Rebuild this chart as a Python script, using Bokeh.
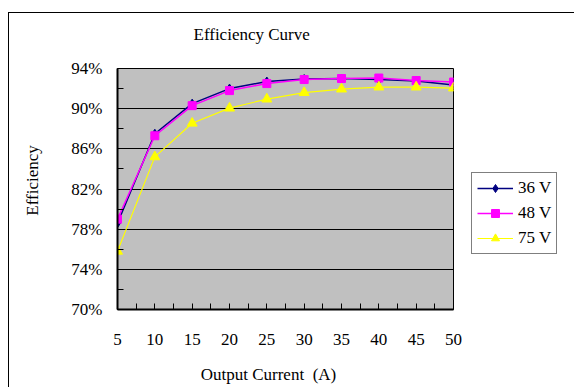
from bokeh.plotting import figure
from bokeh.models import FixedTicker, Legend, LegendItem, Range1d, Title
from bokeh.embed import file_html
from bokeh.resources import INLINE

# Output current (A) and measured efficiency (%) for three input voltages
current = [5, 10, 15, 20, 25, 30, 35, 40, 45, 50]
eff_36v = [78.6, 87.5, 90.5, 92.0, 92.7, 92.95, 93.0, 92.9, 92.75, 92.35]
eff_48v = [79.0, 87.3, 90.3, 91.8, 92.5, 92.9, 93.0, 93.05, 92.8, 92.65]
eff_75v = [75.8, 85.2, 88.55, 90.05, 90.95, 91.6, 91.95, 92.15, 92.15, 92.05]

y_ticks = [70, 74, 78, 82, 86, 90, 94]
y_minor = [72, 76, 80, 84, 88, 92]
x_minor = [7.5, 12.5, 17.5, 22.5, 27.5, 32.5, 37.5, 42.5, 47.5]

FONT = "Liberation Serif"
NB = "\u00a0"

p = figure(frame_width=336, frame_height=241, title=None,
           output_backend="svg", toolbar_location=None,
           x_range=Range1d(5, 50), y_range=Range1d(70, 94),
           min_border_left=108, min_border_right=121,
           min_border_top=55, min_border_bottom=78)

# left/top border line of the chart area, offset from the page edge
p.margin = (12, 0, 0, 8)
p.styles = {"border-left": "1px solid black", "border-top": "1px solid black"}

p.background_fill_color = "#C0C0C0"
p.border_fill_color = "white"
p.outline_line_color = "black"
p.outline_line_width = 1

# empty spacer between the frame and the chart title
p.add_layout(Title(text=NB, text_font_size="1px", standoff=22), "above")
p.add_layout(Title(text="Efficiency Curve", text_font=FONT, text_font_size="17px",
                   text_font_style="normal", text_color="black",
                   align="left", offset=76, vertical_align="bottom", standoff=0),
             "above")

# axes
for ax in (p.xaxis[0], p.yaxis[0]):
    ax.axis_line_color = "black"
    ax.axis_line_width = 2
    ax.major_tick_in = 6
    ax.major_tick_out = 0
    ax.minor_tick_in = 6
    ax.minor_tick_out = 0
    ax.major_tick_line_color = "black"
    ax.minor_tick_line_color = "black"
    ax.major_label_text_font = FONT
    ax.major_label_text_font_size = "17px"
    ax.major_label_text_color = "black"
    ax.axis_label_text_font = FONT
    ax.axis_label_text_font_size = "17px"
    ax.axis_label_text_font_style = "normal"
    ax.axis_label_text_color = "black"

p.xaxis.ticker = FixedTicker(ticks=current, minor_ticks=x_minor)
p.yaxis.ticker = FixedTicker(ticks=y_ticks, minor_ticks=y_minor)
p.yaxis.major_label_overrides = {t: f"{t}%" for t in y_ticks}
p.xaxis.major_label_standoff = 24
p.yaxis.major_label_standoff = 15
p.xaxis.axis_label = "Output Current" + NB * 2 + "(A)" + NB * 8
p.yaxis.axis_label = NB * 4 + "Efficiency"
p.xaxis.axis_label_standoff = 17
p.yaxis.axis_label_standoff = 26

p.xgrid.grid_line_color = None
p.ygrid.grid_line_color = "black"
p.ygrid.grid_line_width = 1

# series
r36l = p.line(current, eff_36v, line_color="#000080", line_width=1.5)
r36m = p.scatter(current, eff_36v, marker="diamond", size=9,
                 fill_color="#000080", line_color="#000080")
r48l = p.line(current, eff_48v, line_color="#FF00FF", line_width=1.5)
r48m = p.scatter(current, eff_48v, marker="square", size=8,
                 fill_color="#FF00FF", line_color="#FF00FF")
r75l = p.line(current, eff_75v, line_color="#FFFF00", line_width=1.2)
r75m = p.scatter(current, eff_75v, marker="triangle", size=10,
                 fill_color="#FFFF00", line_color="#FFFF00")

legend = Legend(items=[
    LegendItem(label="36 V", renderers=[r36l, r36m]),
    LegendItem(label="48 V", renderers=[r48l, r48m]),
    LegendItem(label="75 V", renderers=[r75l, r75m]),
], location=(18, 55))
legend.label_text_font = FONT
legend.label_text_font_size = "17px"
legend.label_text_color = "black"
legend.border_line_color = "black"
legend.border_line_width = 1
legend.background_fill_color = "white"
legend.background_fill_alpha = 1
legend.glyph_width = 36
legend.glyph_height = 20
legend.label_standoff = 5
legend.spacing = 5
legend.padding = 5
legend.margin = 0
p.add_layout(legend, "right")

open("out.html", "w").write(file_html(p, INLINE))
